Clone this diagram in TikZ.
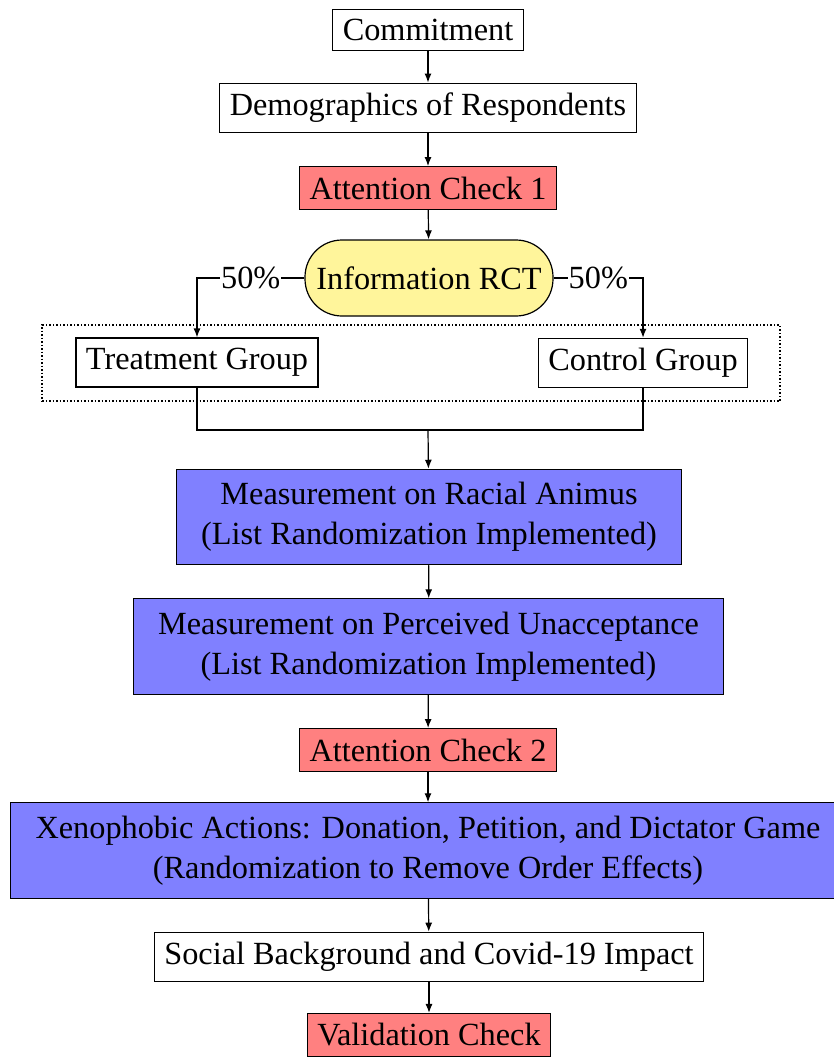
\documentclass[tikz,border=0pt]{standalone}
\usepackage{fontspec}
\setmainfont{Liberation Serif}
\usetikzlibrary{arrows.meta}
\definecolor{boxred}{RGB}{255,128,128}
\definecolor{boxblue}{RGB}{128,128,255}
\definecolor{boxyellow}{RGB}{255,245,155}
\tikzset{
  every node/.style={font=\fontsize{32.3}{40}\selectfont},
  box/.style={draw=black, line width=1.2pt, inner xsep=10pt, inner ysep=10pt, align=center},
  redbox/.style={box, fill=boxred},
  bluebox/.style={box, fill=boxblue, inner xsep=25pt, inner ysep=13pt},
  arr/.style={line width=1.2pt, -{Latex[length=9pt,width=7pt]}},
  conn/.style={line width=1.2pt},
  pct/.style={fill=white, inner sep=1pt}
}
\begin{document}
\begin{tikzpicture}[x=1pt,y=-1pt]
\useasboundingbox (0,0) rectangle (833,1057);
\node[box] (commit) at (428,30) {Commitment};
\node[box] (demo) at (428,108) {Demographics of Respondents};
\node[redbox] (att1) at (428,188) {Attention Check 1};
\node[draw=black, line width=1.2pt, fill=boxyellow, rounded corners=37pt, minimum width=248pt, minimum height=76pt] (rct) at (429,278) {Information RCT};
\node[draw=black, line width=1.5pt, dotted, minimum width=738pt, minimum height=76pt] (grp) at (411,363) {};
\node[box, minimum height=49pt] (treat) at (197,362.5) {Treatment Group};
\node[box, minimum height=49pt] (ctrl) at (643,363) {Control Group};
\coordinate (join) at (428,430);
\node[bluebox] (m1) at (429,517) {Measurement on Racial Animus\\(List Randomization Implemented)};
\node[bluebox] (m2) at (428.5,646.5) {Measurement on Perceived Unacceptance\\(List Randomization Implemented)};
\node[redbox] (att2) at (428,750) {Attention Check 2};
\node[bluebox] (xeno) at (428,850.5) {Xenophobic Actions: Donation, Petition, and Dictator Game\\(Randomization to Remove Order Effects)};
\node[box] (social) at (429,957) {Social Background and Covid-19 Impact};
\node[redbox] (valid) at (429,1035) {Validation Check};

\draw[arr] (commit) -- (demo);
\draw[arr] (demo) -- (att1);
\draw[arr] (att1) -- (rct);
\draw[arr] (rct.west) -| node[pct, pos=0.25] {50\%} (treat.north);
\draw[arr] (rct.east) -| node[pct, pos=0.25] {50\%} (ctrl.north);
\draw[conn] (treat.south) |- (join) -| (ctrl.south);
\draw[arr] (join) -- (m1);
\draw[arr] (m1) -- (m2);
\draw[arr] (m2) -- (att2);
\draw[arr] (att2) -- (xeno);
\draw[arr] (xeno) -- (social);
\draw[arr] (social) -- (valid);
\end{tikzpicture}
\end{document}
